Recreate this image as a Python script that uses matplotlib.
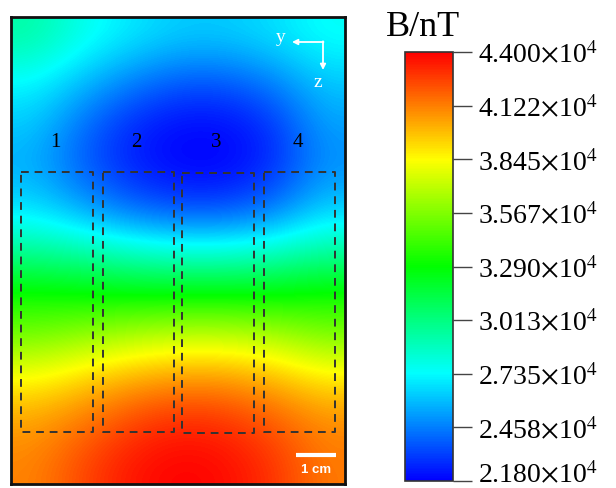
import numpy as np
import matplotlib
matplotlib.use('Agg')
import matplotlib.pyplot as plt
from matplotlib.colors import LinearSegmentedColormap
from matplotlib.transforms import ScaledTranslation

# field values read off the map as a fraction of the colour range,
# rows top -> bottom, cols left -> right
b_min, b_max = 21800.0, 44000.0
frac_rows = [
    [0.34, 0.27, 0.23, 0.20, 0.20, 0.22, 0.26],
    [0.25, 0.19, 0.13, 0.09, 0.09, 0.13, 0.20],
    [0.20, 0.11, 0.04, 0.01, 0.01, 0.05, 0.16],
    [0.17, 0.09, 0.03, 0.00, 0.00, 0.04, 0.14],
    [0.22, 0.16, 0.10, 0.07, 0.07, 0.11, 0.20],
    [0.35, 0.33, 0.30, 0.28, 0.28, 0.30, 0.34],
    [0.51, 0.50, 0.49, 0.49, 0.49, 0.49, 0.51],
    [0.61, 0.64, 0.67, 0.69, 0.69, 0.67, 0.62],
    [0.75, 0.79, 0.83, 0.85, 0.85, 0.82, 0.77],
    [0.84, 0.88, 0.93, 0.96, 0.95, 0.91, 0.86],
    [0.87, 0.93, 0.98, 1.00, 0.99, 0.95, 0.88],
]
field = b_min + np.array(frac_rows) * (b_max - b_min)

cbar_ticks = np.linspace(b_min, b_max, 9)
cbar_labels = ['2.180', '2.458', '2.735', '3.013', '3.290',
               '3.567', '3.845', '4.122', '4.400']

# sample regions (x0, x1, y0, y1) in map pixels
boxes = [(21, 93, 173, 433), (103, 174, 173, 433),
         (182, 254, 174, 434), (264, 335, 173, 433)]
box_names = ['1', '2', '3', '4']

plt.rcParams['font.family'] = ['Liberation Serif', 'DejaVu Serif']
plt.rcParams['mathtext.fontset'] = 'stix'

cmap = LinearSegmentedColormap.from_list(
    'rainbow5', [(0, '#0000ff'), (0.25, '#00ffff'), (0.5, '#00ff00'),
                 (0.75, '#ffff00'), (1, '#ff0000')])

W, H = 616, 489
fig = plt.figure(figsize=(W / 100, H / 100), dpi=100)

x0, x1, y0, y1 = 11, 345, 18, 485
ax = fig.add_axes([x0 / W, 1 - y1 / H, (x1 - x0) / W, (y1 - y0) / H])
im = ax.imshow(field, cmap=cmap, vmin=b_min, vmax=b_max, aspect='auto',
               interpolation='bicubic', extent=[x0, x1, y1, y0])
ax.set_xlim(x0, x1)
ax.set_ylim(y1, y0)
ax.set_xticks([])
ax.set_yticks([])
for s in ax.spines.values():
    s.set_linewidth(2)
    s.set_color('#111111')

for (bx0, bx1, by0, by1), name in zip(boxes, box_names):
    ax.plot([bx0, bx1, bx1, bx0, bx0], [by0, by0, by1, by1, by0],
            ls=(0, (4, 3)), color='#333333', lw=1.4)
    ax.text((bx0 + bx1) / 2 - 2, 143, name, ha='center', va='center',
            fontsize=15, color='black')

# orientation arrows
ax.annotate('', xy=(292, 43), xytext=(323.5, 43),
            arrowprops=dict(arrowstyle='-|>', color='white', lw=1.3,
                            mutation_scale=8, shrinkA=0, shrinkB=0))
ax.annotate('', xy=(323, 71), xytext=(323, 42.3),
            arrowprops=dict(arrowstyle='-|>', color='white', lw=1.3,
                            mutation_scale=8, shrinkA=0, shrinkB=0))
ax.text(281, 38, 'y', color='white', fontsize=14, ha='center', va='center')
ax.text(318, 83, 'z', color='white', fontsize=14, ha='center', va='center')

# scale bar
ax.plot([296, 336], [456, 456], color='white', lw=3, solid_capstyle='butt')
ax.text(316, 470, '1 cm', color='white', fontsize=9.5, fontweight='bold',
        family='Liberation Sans', ha='center', va='center')

cax = fig.add_axes([405 / W, 1 - 482 / H, 48 / W, 429 / H])
cb = fig.colorbar(im, cax=cax, ticks=cbar_ticks)
cb.set_ticklabels([lab + r'$\times$10$^4$' for lab in cbar_labels])
cb.outline.set_linewidth(1.2)
cb.outline.set_edgecolor('#333333')
cax.tick_params(length=14, width=1, color='#444444', labelsize=20, pad=4)
# keep the lowest label inside the canvas
low = cax.get_yticklabels()[0]
low.set_transform(low.get_transform() + ScaledTranslation(0, 9 / 100, fig.dpi_scale_trans))
fig.text(423 / W, 1 - 27 / H, 'B/nT', fontsize=26, ha='center', va='center')

fig.savefig('out.png', dpi=100)
